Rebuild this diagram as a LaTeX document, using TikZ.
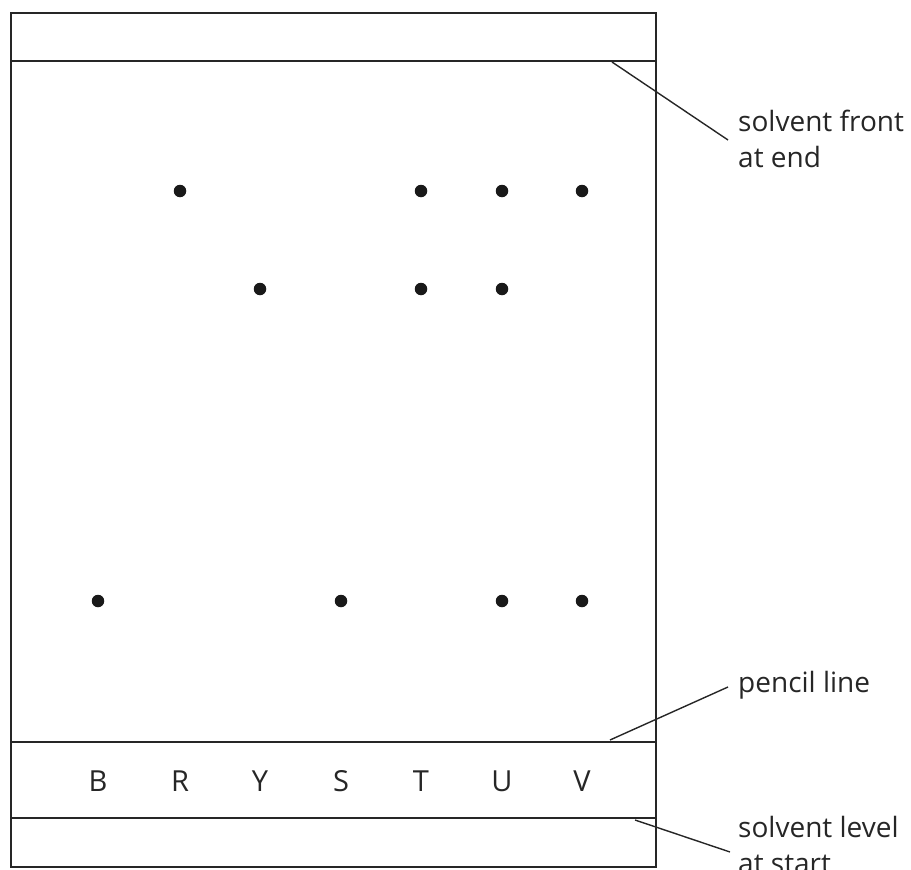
\documentclass[tikz,border=0pt]{standalone}
\usepackage{fontspec}
\setmainfont{Open Sans}
\begin{document}
\begin{tikzpicture}[x=1pt,y=-1pt,
  frame/.style={line width=2.8pt,draw=black!85},
  level/.style={line width=2.2pt,draw=black!85},
  leader/.style={line width=1.4pt,draw=black!85},
  spot/.style={circle,fill=black!90,inner sep=0pt,minimum size=12.5pt},
  lane/.style={font=\fontsize{29}{34}\selectfont,inner sep=0pt,text=black!85},
  note/.style={font=\fontsize{28}{36}\selectfont,anchor=base west,inner sep=0pt,align=left,text=black!85}]
\useasboundingbox (0,0) rectangle (911,870);
\draw[frame] (11,13) rectangle (656,867);
\draw[level] (11,61) -- (656,61);
\draw[level] (11,742) -- (656,742);
\draw[level] (11,818) -- (656,818);
% lane letters
\foreach \n/\x in {B/98,R/180,Y/260,S/341,T/421,U/502,V/582}{
  \node[lane] (l\n) at (\x,781) {\n};
}
% spots
\foreach \n/\x/\y in {r1/180/191,t1/421/191,u1/502/191,v1/582/191,
  y2/260/289,t2/421/289,u2/502/289,
  b3/98/601,s3/341/601,u3/502/601,v3/582/601}{
  \node[spot] (d\n) at (\x,\y) {};
}
% labels (base = baseline of last line)
\node[note] (front) at (738,167) {solvent front\\at end};
\node[note] (pencil) at (738,692) {pencil line};
\node[note] (solv) at (738,873) {solvent level\\at start};
\coordinate (fa) at (612,62);
\coordinate (fb) at (728,140);
\coordinate (pa) at (610,740);
\coordinate (pb) at (728,687);
\coordinate (sa) at (635,820);
\coordinate (sb) at (730,852);
\draw[leader] (fa) -- (fb);
\draw[leader] (pa) -- (pb);
\draw[leader] (sa) -- (sb);
\end{tikzpicture}
\end{document}
